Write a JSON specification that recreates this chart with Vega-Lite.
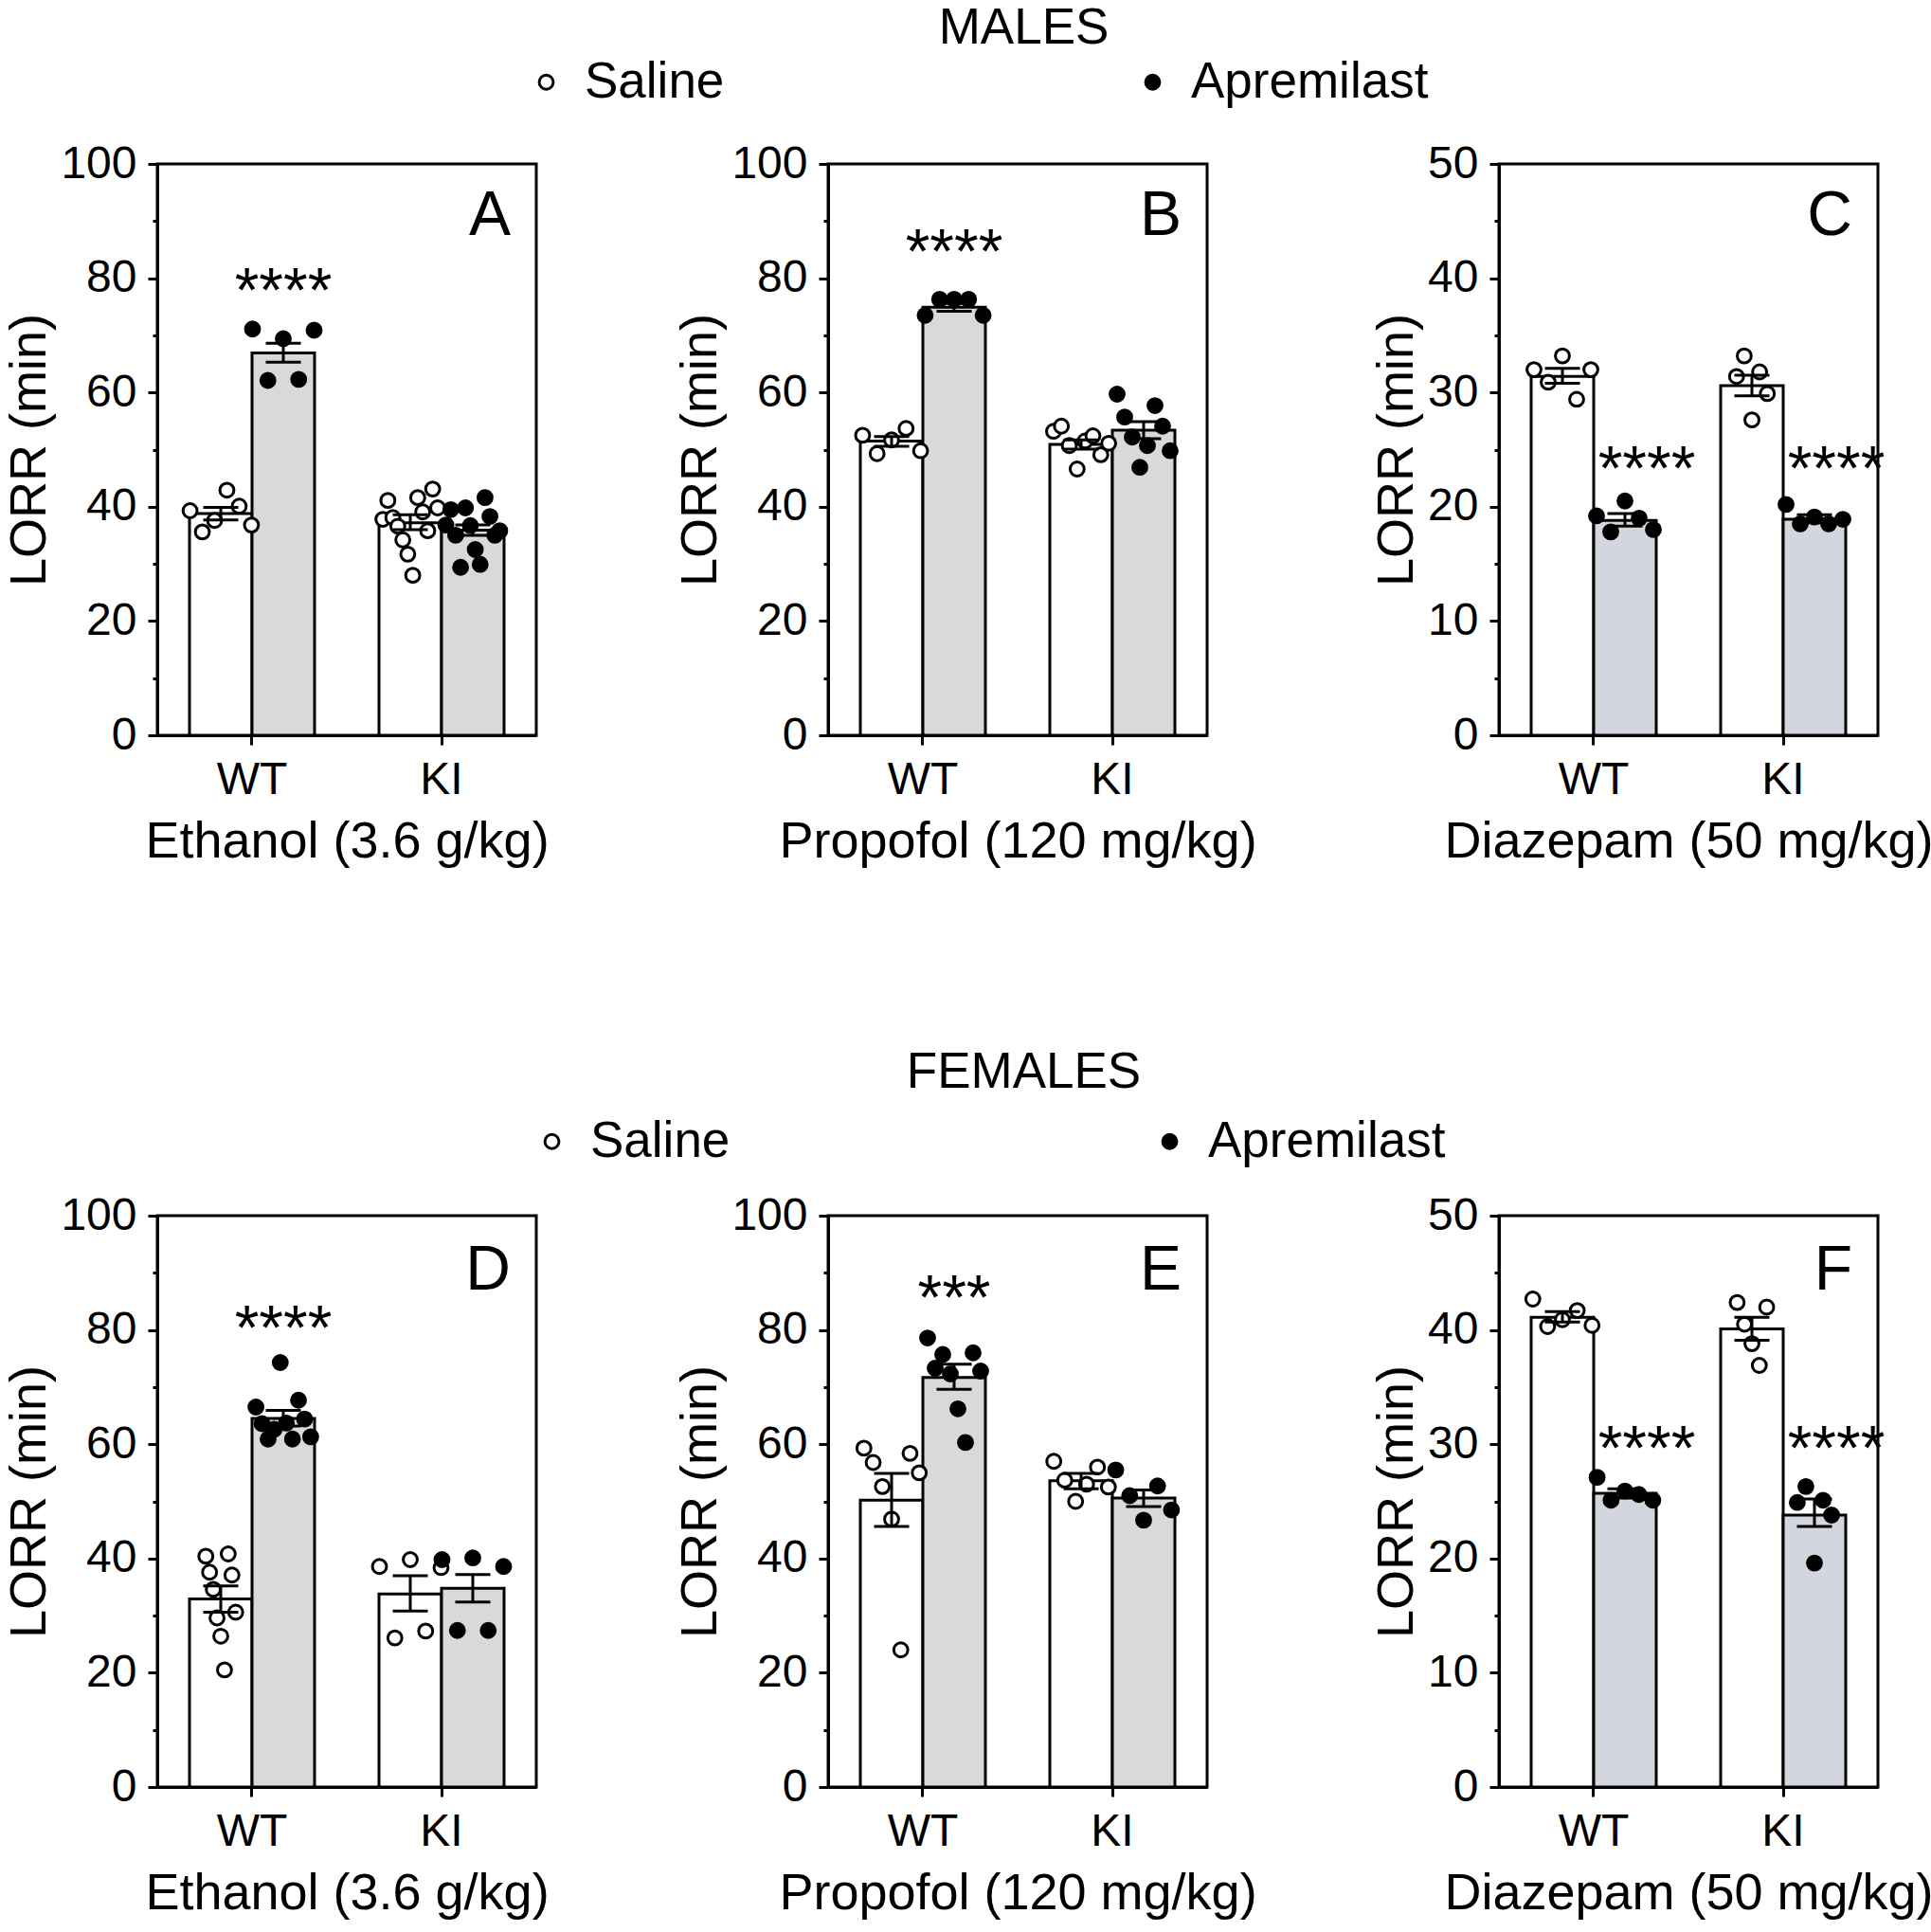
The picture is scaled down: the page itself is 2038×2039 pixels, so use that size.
{
  "$schema": "https://vega.github.io/schema/vega-lite/v6.json",
  "padding": {"left": 3, "top": 3, "right": 0, "bottom": 0},
  "autosize": {"type": "pad"},
  "config": {
    "font": "Liberation Sans",
    "view": {"stroke": "black", "strokeWidth": 3},
    "axis": {"grid": false, "labelFont": "Liberation Sans", "titleFont": "Liberation Sans", "labelFontSize": 48, "titleFontSize": 54, "labelColor": "black", "titleColor": "black", "tickColor": "black", "domainColor": "black", "tickWidth": 3, "domainWidth": 3, "titleFontWeight": "normal"},
    "axisX": {"tickSize": 10, "labelPadding": 13, "titlePadding": 14, "labelAngle": 0},
    "axisY": {"labelPadding": 12, "titlePadding": 5},
    "title": {"font": "Liberation Sans", "fontSize": 53, "fontWeight": "normal", "color": "black"}
  },
  "datasets": {
    "bars": [
      {"panel": "A", "genotype": "WT", "treatment": "Saline", "mean": 38.8, "lo": 37.7, "hi": 39.9},
      {"panel": "A", "genotype": "WT", "treatment": "Apremilast", "mean": 66.9, "lo": 65.3, "hi": 68.6},
      {"panel": "A", "genotype": "KI", "treatment": "Saline", "mean": 37.2, "lo": 36.0, "hi": 38.6},
      {"panel": "A", "genotype": "KI", "treatment": "Apremilast", "mean": 35.9, "lo": 35.0, "hi": 36.8},
      {"panel": "B", "genotype": "WT", "treatment": "Saline", "mean": 51.5, "lo": 50.6, "hi": 52.3},
      {"panel": "B", "genotype": "WT", "treatment": "Apremilast", "mean": 74.9, "lo": 74.2, "hi": 75.6},
      {"panel": "B", "genotype": "KI", "treatment": "Saline", "mean": 50.9, "lo": 50.1, "hi": 51.7},
      {"panel": "B", "genotype": "KI", "treatment": "Apremilast", "mean": 53.4, "lo": 51.9, "hi": 54.9},
      {"panel": "C", "genotype": "WT", "treatment": "Saline", "mean": 31.4, "lo": 30.8, "hi": 32.1},
      {"panel": "C", "genotype": "WT", "treatment": "Apremilast", "mean": 18.8, "lo": 18.3, "hi": 19.4},
      {"panel": "C", "genotype": "KI", "treatment": "Saline", "mean": 30.6, "lo": 29.7, "hi": 31.5},
      {"panel": "C", "genotype": "KI", "treatment": "Apremilast", "mean": 18.9, "lo": 18.6, "hi": 19.3},
      {"panel": "D", "genotype": "WT", "treatment": "Saline", "mean": 32.9, "lo": 30.6, "hi": 35.2},
      {"panel": "D", "genotype": "WT", "treatment": "Apremilast", "mean": 64.5, "lo": 63.2, "hi": 65.9},
      {"panel": "D", "genotype": "KI", "treatment": "Saline", "mean": 33.8, "lo": 30.8, "hi": 37.0},
      {"panel": "D", "genotype": "KI", "treatment": "Apremilast", "mean": 34.8, "lo": 32.4, "hi": 37.2},
      {"panel": "E", "genotype": "WT", "treatment": "Saline", "mean": 50.2, "lo": 45.6, "hi": 54.9},
      {"panel": "E", "genotype": "WT", "treatment": "Apremilast", "mean": 71.7, "lo": 69.6, "hi": 74.0},
      {"panel": "E", "genotype": "KI", "treatment": "Saline", "mean": 53.6, "lo": 52.2, "hi": 54.9},
      {"panel": "E", "genotype": "KI", "treatment": "Apremilast", "mean": 50.6, "lo": 49.1, "hi": 52.0},
      {"panel": "F", "genotype": "WT", "treatment": "Saline", "mean": 41.1, "lo": 40.7, "hi": 41.6},
      {"panel": "F", "genotype": "WT", "treatment": "Apremilast", "mean": 25.7, "lo": 25.3, "hi": 26.1},
      {"panel": "F", "genotype": "KI", "treatment": "Saline", "mean": 40.1, "lo": 39.1, "hi": 41.1},
      {"panel": "F", "genotype": "KI", "treatment": "Apremilast", "mean": 23.8, "lo": 22.8, "hi": 25.2}
    ],
    "points": [
      {"panel": "A", "genotype": "WT", "treatment": "Saline", "lorr": 39.3},
      {"panel": "A", "genotype": "WT", "treatment": "Saline", "lorr": 35.6},
      {"panel": "A", "genotype": "WT", "treatment": "Saline", "lorr": 37.6},
      {"panel": "A", "genotype": "WT", "treatment": "Saline", "lorr": 42.9},
      {"panel": "A", "genotype": "WT", "treatment": "Saline", "lorr": 40.1},
      {"panel": "A", "genotype": "WT", "treatment": "Saline", "lorr": 36.8},
      {"panel": "A", "genotype": "WT", "treatment": "Apremilast", "lorr": 71.1},
      {"panel": "A", "genotype": "WT", "treatment": "Apremilast", "lorr": 62.1},
      {"panel": "A", "genotype": "WT", "treatment": "Apremilast", "lorr": 69.4},
      {"panel": "A", "genotype": "WT", "treatment": "Apremilast", "lorr": 62.3},
      {"panel": "A", "genotype": "WT", "treatment": "Apremilast", "lorr": 70.9},
      {"panel": "A", "genotype": "KI", "treatment": "Saline", "lorr": 37.8},
      {"panel": "A", "genotype": "KI", "treatment": "Saline", "lorr": 41.1},
      {"panel": "A", "genotype": "KI", "treatment": "Saline", "lorr": 38.1},
      {"panel": "A", "genotype": "KI", "treatment": "Saline", "lorr": 36.6},
      {"panel": "A", "genotype": "KI", "treatment": "Saline", "lorr": 34.2},
      {"panel": "A", "genotype": "KI", "treatment": "Saline", "lorr": 31.7},
      {"panel": "A", "genotype": "KI", "treatment": "Saline", "lorr": 28.0},
      {"panel": "A", "genotype": "KI", "treatment": "Saline", "lorr": 41.6},
      {"panel": "A", "genotype": "KI", "treatment": "Saline", "lorr": 39.1},
      {"panel": "A", "genotype": "KI", "treatment": "Saline", "lorr": 35.8},
      {"panel": "A", "genotype": "KI", "treatment": "Saline", "lorr": 43.1},
      {"panel": "A", "genotype": "KI", "treatment": "Saline", "lorr": 39.8},
      {"panel": "A", "genotype": "KI", "treatment": "Apremilast", "lorr": 36.8},
      {"panel": "A", "genotype": "KI", "treatment": "Apremilast", "lorr": 39.5},
      {"panel": "A", "genotype": "KI", "treatment": "Apremilast", "lorr": 35.0},
      {"panel": "A", "genotype": "KI", "treatment": "Apremilast", "lorr": 29.4},
      {"panel": "A", "genotype": "KI", "treatment": "Apremilast", "lorr": 39.8},
      {"panel": "A", "genotype": "KI", "treatment": "Apremilast", "lorr": 36.7},
      {"panel": "A", "genotype": "KI", "treatment": "Apremilast", "lorr": 32.5},
      {"panel": "A", "genotype": "KI", "treatment": "Apremilast", "lorr": 29.9},
      {"panel": "A", "genotype": "KI", "treatment": "Apremilast", "lorr": 41.6},
      {"panel": "A", "genotype": "KI", "treatment": "Apremilast", "lorr": 38.3},
      {"panel": "A", "genotype": "KI", "treatment": "Apremilast", "lorr": 35.0},
      {"panel": "A", "genotype": "KI", "treatment": "Apremilast", "lorr": 35.8},
      {"panel": "B", "genotype": "WT", "treatment": "Saline", "lorr": 52.5},
      {"panel": "B", "genotype": "WT", "treatment": "Saline", "lorr": 49.3},
      {"panel": "B", "genotype": "WT", "treatment": "Saline", "lorr": 51.7},
      {"panel": "B", "genotype": "WT", "treatment": "Saline", "lorr": 53.7},
      {"panel": "B", "genotype": "WT", "treatment": "Saline", "lorr": 49.8},
      {"panel": "B", "genotype": "WT", "treatment": "Apremilast", "lorr": 73.5},
      {"panel": "B", "genotype": "WT", "treatment": "Apremilast", "lorr": 76.3},
      {"panel": "B", "genotype": "WT", "treatment": "Apremilast", "lorr": 76.3},
      {"panel": "B", "genotype": "WT", "treatment": "Apremilast", "lorr": 76.3},
      {"panel": "B", "genotype": "WT", "treatment": "Apremilast", "lorr": 73.5},
      {"panel": "B", "genotype": "KI", "treatment": "Saline", "lorr": 53.2},
      {"panel": "B", "genotype": "KI", "treatment": "Saline", "lorr": 54.1},
      {"panel": "B", "genotype": "KI", "treatment": "Saline", "lorr": 50.7},
      {"panel": "B", "genotype": "KI", "treatment": "Saline", "lorr": 46.6},
      {"panel": "B", "genotype": "KI", "treatment": "Saline", "lorr": 51.5},
      {"panel": "B", "genotype": "KI", "treatment": "Saline", "lorr": 52.4},
      {"panel": "B", "genotype": "KI", "treatment": "Saline", "lorr": 49.1},
      {"panel": "B", "genotype": "KI", "treatment": "Saline", "lorr": 51.1},
      {"panel": "B", "genotype": "KI", "treatment": "Apremilast", "lorr": 59.7},
      {"panel": "B", "genotype": "KI", "treatment": "Apremilast", "lorr": 55.7},
      {"panel": "B", "genotype": "KI", "treatment": "Apremilast", "lorr": 52.2},
      {"panel": "B", "genotype": "KI", "treatment": "Apremilast", "lorr": 46.9},
      {"panel": "B", "genotype": "KI", "treatment": "Apremilast", "lorr": 50.7},
      {"panel": "B", "genotype": "KI", "treatment": "Apremilast", "lorr": 57.7},
      {"panel": "B", "genotype": "KI", "treatment": "Apremilast", "lorr": 54.1},
      {"panel": "B", "genotype": "KI", "treatment": "Apremilast", "lorr": 49.8},
      {"panel": "C", "genotype": "WT", "treatment": "Saline", "lorr": 32.0},
      {"panel": "C", "genotype": "WT", "treatment": "Saline", "lorr": 30.9},
      {"panel": "C", "genotype": "WT", "treatment": "Saline", "lorr": 33.2},
      {"panel": "C", "genotype": "WT", "treatment": "Saline", "lorr": 29.4},
      {"panel": "C", "genotype": "WT", "treatment": "Saline", "lorr": 32.0},
      {"panel": "C", "genotype": "WT", "treatment": "Apremilast", "lorr": 19.2},
      {"panel": "C", "genotype": "WT", "treatment": "Apremilast", "lorr": 17.8},
      {"panel": "C", "genotype": "WT", "treatment": "Apremilast", "lorr": 20.5},
      {"panel": "C", "genotype": "WT", "treatment": "Apremilast", "lorr": 19.0},
      {"panel": "C", "genotype": "WT", "treatment": "Apremilast", "lorr": 18.0},
      {"panel": "C", "genotype": "KI", "treatment": "Saline", "lorr": 31.4},
      {"panel": "C", "genotype": "KI", "treatment": "Saline", "lorr": 33.2},
      {"panel": "C", "genotype": "KI", "treatment": "Saline", "lorr": 27.6},
      {"panel": "C", "genotype": "KI", "treatment": "Saline", "lorr": 31.8},
      {"panel": "C", "genotype": "KI", "treatment": "Saline", "lorr": 29.9},
      {"panel": "C", "genotype": "KI", "treatment": "Apremilast", "lorr": 20.2},
      {"panel": "C", "genotype": "KI", "treatment": "Apremilast", "lorr": 18.5},
      {"panel": "C", "genotype": "KI", "treatment": "Apremilast", "lorr": 19.1},
      {"panel": "C", "genotype": "KI", "treatment": "Apremilast", "lorr": 18.5},
      {"panel": "C", "genotype": "KI", "treatment": "Apremilast", "lorr": 18.9},
      {"panel": "D", "genotype": "WT", "treatment": "Saline", "lorr": 40.4},
      {"panel": "D", "genotype": "WT", "treatment": "Saline", "lorr": 37.6},
      {"panel": "D", "genotype": "WT", "treatment": "Saline", "lorr": 34.6},
      {"panel": "D", "genotype": "WT", "treatment": "Saline", "lorr": 29.6},
      {"panel": "D", "genotype": "WT", "treatment": "Saline", "lorr": 26.4},
      {"panel": "D", "genotype": "WT", "treatment": "Saline", "lorr": 20.5},
      {"panel": "D", "genotype": "WT", "treatment": "Saline", "lorr": 40.8},
      {"panel": "D", "genotype": "WT", "treatment": "Saline", "lorr": 37.1},
      {"panel": "D", "genotype": "WT", "treatment": "Saline", "lorr": 30.6},
      {"panel": "D", "genotype": "WT", "treatment": "Apremilast", "lorr": 66.5},
      {"panel": "D", "genotype": "WT", "treatment": "Apremilast", "lorr": 63.6},
      {"panel": "D", "genotype": "WT", "treatment": "Apremilast", "lorr": 60.9},
      {"panel": "D", "genotype": "WT", "treatment": "Apremilast", "lorr": 62.6},
      {"panel": "D", "genotype": "WT", "treatment": "Apremilast", "lorr": 74.3},
      {"panel": "D", "genotype": "WT", "treatment": "Apremilast", "lorr": 63.7},
      {"panel": "D", "genotype": "WT", "treatment": "Apremilast", "lorr": 60.9},
      {"panel": "D", "genotype": "WT", "treatment": "Apremilast", "lorr": 67.7},
      {"panel": "D", "genotype": "WT", "treatment": "Apremilast", "lorr": 64.4},
      {"panel": "D", "genotype": "WT", "treatment": "Apremilast", "lorr": 61.3},
      {"panel": "D", "genotype": "KI", "treatment": "Saline", "lorr": 38.6},
      {"panel": "D", "genotype": "KI", "treatment": "Saline", "lorr": 26.1},
      {"panel": "D", "genotype": "KI", "treatment": "Saline", "lorr": 39.8},
      {"panel": "D", "genotype": "KI", "treatment": "Saline", "lorr": 27.3},
      {"panel": "D", "genotype": "KI", "treatment": "Saline", "lorr": 38.4},
      {"panel": "D", "genotype": "KI", "treatment": "Apremilast", "lorr": 39.8},
      {"panel": "D", "genotype": "KI", "treatment": "Apremilast", "lorr": 27.4},
      {"panel": "D", "genotype": "KI", "treatment": "Apremilast", "lorr": 40.1},
      {"panel": "D", "genotype": "KI", "treatment": "Apremilast", "lorr": 27.4},
      {"panel": "D", "genotype": "KI", "treatment": "Apremilast", "lorr": 38.6},
      {"panel": "E", "genotype": "WT", "treatment": "Saline", "lorr": 59.3},
      {"panel": "E", "genotype": "WT", "treatment": "Saline", "lorr": 56.8},
      {"panel": "E", "genotype": "WT", "treatment": "Saline", "lorr": 52.6},
      {"panel": "E", "genotype": "WT", "treatment": "Saline", "lorr": 46.9},
      {"panel": "E", "genotype": "WT", "treatment": "Saline", "lorr": 24.0},
      {"panel": "E", "genotype": "WT", "treatment": "Saline", "lorr": 58.4},
      {"panel": "E", "genotype": "WT", "treatment": "Saline", "lorr": 55.0},
      {"panel": "E", "genotype": "WT", "treatment": "Apremilast", "lorr": 78.6},
      {"panel": "E", "genotype": "WT", "treatment": "Apremilast", "lorr": 73.3},
      {"panel": "E", "genotype": "WT", "treatment": "Apremilast", "lorr": 75.7},
      {"panel": "E", "genotype": "WT", "treatment": "Apremilast", "lorr": 72.3},
      {"panel": "E", "genotype": "WT", "treatment": "Apremilast", "lorr": 66.2},
      {"panel": "E", "genotype": "WT", "treatment": "Apremilast", "lorr": 60.3},
      {"panel": "E", "genotype": "WT", "treatment": "Apremilast", "lorr": 76.0},
      {"panel": "E", "genotype": "WT", "treatment": "Apremilast", "lorr": 72.8},
      {"panel": "E", "genotype": "KI", "treatment": "Saline", "lorr": 57.0},
      {"panel": "E", "genotype": "KI", "treatment": "Saline", "lorr": 53.7},
      {"panel": "E", "genotype": "KI", "treatment": "Saline", "lorr": 50.0},
      {"panel": "E", "genotype": "KI", "treatment": "Saline", "lorr": 53.0},
      {"panel": "E", "genotype": "KI", "treatment": "Saline", "lorr": 56.0},
      {"panel": "E", "genotype": "KI", "treatment": "Saline", "lorr": 52.5},
      {"panel": "E", "genotype": "KI", "treatment": "Apremilast", "lorr": 55.5},
      {"panel": "E", "genotype": "KI", "treatment": "Apremilast", "lorr": 51.0},
      {"panel": "E", "genotype": "KI", "treatment": "Apremilast", "lorr": 46.7},
      {"panel": "E", "genotype": "KI", "treatment": "Apremilast", "lorr": 52.7},
      {"panel": "E", "genotype": "KI", "treatment": "Apremilast", "lorr": 48.5},
      {"panel": "F", "genotype": "WT", "treatment": "Saline", "lorr": 42.7},
      {"panel": "F", "genotype": "WT", "treatment": "Saline", "lorr": 40.3},
      {"panel": "F", "genotype": "WT", "treatment": "Saline", "lorr": 40.9},
      {"panel": "F", "genotype": "WT", "treatment": "Saline", "lorr": 41.7},
      {"panel": "F", "genotype": "WT", "treatment": "Saline", "lorr": 40.4},
      {"panel": "F", "genotype": "WT", "treatment": "Apremilast", "lorr": 27.1},
      {"panel": "F", "genotype": "WT", "treatment": "Apremilast", "lorr": 25.1},
      {"panel": "F", "genotype": "WT", "treatment": "Apremilast", "lorr": 25.9},
      {"panel": "F", "genotype": "WT", "treatment": "Apremilast", "lorr": 25.6},
      {"panel": "F", "genotype": "WT", "treatment": "Apremilast", "lorr": 25.1},
      {"panel": "F", "genotype": "KI", "treatment": "Saline", "lorr": 42.4},
      {"panel": "F", "genotype": "KI", "treatment": "Saline", "lorr": 40.5},
      {"panel": "F", "genotype": "KI", "treatment": "Saline", "lorr": 38.8},
      {"panel": "F", "genotype": "KI", "treatment": "Saline", "lorr": 36.9},
      {"panel": "F", "genotype": "KI", "treatment": "Saline", "lorr": 42.0},
      {"panel": "F", "genotype": "KI", "treatment": "Apremilast", "lorr": 24.9},
      {"panel": "F", "genotype": "KI", "treatment": "Apremilast", "lorr": 26.3},
      {"panel": "F", "genotype": "KI", "treatment": "Apremilast", "lorr": 19.6},
      {"panel": "F", "genotype": "KI", "treatment": "Apremilast", "lorr": 25.1},
      {"panel": "F", "genotype": "KI", "treatment": "Apremilast", "lorr": 23.8}
    ],
    "stars": [
      {"panel": "A", "genotype": "WT", "treatment": "Apremilast", "y": 80.4, "label": "****"},
      {"panel": "B", "genotype": "WT", "treatment": "Apremilast", "y": 87.2, "label": "****"},
      {"panel": "C", "genotype": "WT", "treatment": "Apremilast", "y": 24.6, "label": "****"},
      {"panel": "C", "genotype": "KI", "treatment": "Apremilast", "y": 24.6, "label": "****"},
      {"panel": "D", "genotype": "WT", "treatment": "Apremilast", "y": 83.0, "label": "****"},
      {"panel": "E", "genotype": "WT", "treatment": "Apremilast", "y": 88.3, "label": "***"},
      {"panel": "F", "genotype": "WT", "treatment": "Apremilast", "y": 30.9, "label": "****"},
      {"panel": "F", "genotype": "KI", "treatment": "Apremilast", "y": 30.9, "label": "****"}
    ],
    "letters": [
      {"panel": "A", "genotype": "KI", "treatment": "Apremilast", "y": 91.6, "label": "A"},
      {"panel": "B", "genotype": "KI", "treatment": "Apremilast", "y": 91.6, "label": "B"},
      {"panel": "C", "genotype": "KI", "treatment": "Apremilast", "y": 45.75, "label": "C"},
      {"panel": "D", "genotype": "KI", "treatment": "Apremilast", "y": 91.1, "label": "D"},
      {"panel": "E", "genotype": "KI", "treatment": "Apremilast", "y": 91.1, "label": "E"},
      {"panel": "F", "genotype": "KI", "treatment": "Apremilast", "y": 45.5, "label": "F"}
    ]
  },
  "spacing": 188,
  "resolve": {"scale": {"fill": "independent"}, "legend": {"fill": "independent"}},
  "vconcat": [
    {
      "title": {"text": "MALES", "anchor": "middle", "frame": "bounds", "offset": 2, "dx": 58},
      "spacing": 308,
      "bounds": "flush",
      "resolve": {"scale": {"fill": "independent"}, "legend": {"fill": "independent"}},
      "hconcat": [
        {
          "width": 400, "height": 603,
          "encoding": {"x": {"field": "genotype", "type": "nominal", "scale": {"domain": ["WT", "KI"], "paddingInner": 0.34, "paddingOuter": 0.17}, "axis": {"title": "Ethanol (3.6 g/kg)"}}},
          "resolve": {"scale": {"xOffset": "independent"}},
          "layer": [
            {"data": {"name": "bars"}, "transform": [{"filter": "datum.panel==='A'"}], "mark": {"type": "bar", "stroke": "black", "strokeWidth": 3, "opacity": 1},
             "encoding": {"xOffset": {"field": "treatment", "type": "nominal", "scale": {"domain": ["Saline", "Apremilast"], "paddingInner": 0, "paddingOuter": 0}},
               "y": {"field": "mean", "type": "quantitative", "scale": {"domain": [0, 100]}, "axis": {"title": "LORR (min)", "values": [0,5,10,15,20,25,30,35,40,45,50,55,60,65,70,75,80,85,90,95,100], "labelExpr": "datum.value % 20 === 0 ? datum.label : ''", "tickSize": {"condition": {"test": "datum.value % 20 === 0", "value": 10}, "value": 5}, "labelOverlap": false}},
               "fill": {"condition": {"test": "datum.treatment==='Saline'", "value": "white"}, "value": "#d9d9d9"}}},
            {"data": {"name": "points"}, "transform": [{"filter": "datum.panel==='A' && datum.genotype==='WT' && datum.treatment==='Saline'"}, {"window": [{"op": "row_number", "as": "k"}]}], "mark": {"type": "circle", "size": 220, "stroke": "black", "strokeWidth": 3, "opacity": 1},
             "encoding": {"xOffset": {"field": "k", "type": "ordinal", "scale": {"range": [0.6, 65.4], "paddingInner": 0, "paddingOuter": 0}}, "y": {"field": "lorr", "type": "quantitative", "scale": {"domain": [0, 100]}}, "fill": {"field": "treatment", "type": "nominal", "scale": {"domain": ["Saline", "Apremilast"], "range": ["white", "black"]}, "legend": null}}},
            {"data": {"name": "points"}, "transform": [{"filter": "datum.panel==='A' && datum.genotype==='WT' && datum.treatment==='Apremilast'"}, {"window": [{"op": "row_number", "as": "k"}]}], "mark": {"type": "circle", "size": 220, "stroke": "black", "strokeWidth": 3, "opacity": 1},
             "encoding": {"xOffset": {"field": "k", "type": "ordinal", "scale": {"range": [66.5, 131.5], "paddingInner": 0, "paddingOuter": 0}}, "y": {"field": "lorr", "type": "quantitative", "scale": {"domain": [0, 100]}}, "fill": {"field": "treatment", "type": "nominal", "scale": {"domain": ["Saline", "Apremilast"], "range": ["white", "black"]}, "legend": null}}},
            {"data": {"name": "points"}, "transform": [{"filter": "datum.panel==='A' && datum.genotype==='KI' && datum.treatment==='Saline'"}, {"window": [{"op": "row_number", "as": "k"}]}], "mark": {"type": "circle", "size": 220, "stroke": "black", "strokeWidth": 3, "opacity": 1},
             "encoding": {"xOffset": {"field": "k", "type": "ordinal", "scale": {"range": [4.1, 61.9], "paddingInner": 0, "paddingOuter": 0}}, "y": {"field": "lorr", "type": "quantitative", "scale": {"domain": [0, 100]}}, "fill": {"field": "treatment", "type": "nominal", "scale": {"domain": ["Saline", "Apremilast"], "range": ["white", "black"]}, "legend": null}}},
            {"data": {"name": "points"}, "transform": [{"filter": "datum.panel==='A' && datum.genotype==='KI' && datum.treatment==='Apremilast'"}, {"window": [{"op": "row_number", "as": "k"}]}], "mark": {"type": "circle", "size": 220, "stroke": "black", "strokeWidth": 3, "opacity": 1},
             "encoding": {"xOffset": {"field": "k", "type": "ordinal", "scale": {"range": [70.6, 127.4], "paddingInner": 0, "paddingOuter": 0}}, "y": {"field": "lorr", "type": "quantitative", "scale": {"domain": [0, 100]}}, "fill": {"field": "treatment", "type": "nominal", "scale": {"domain": ["Saline", "Apremilast"], "range": ["white", "black"]}, "legend": null}}},
            {"data": {"name": "bars"}, "transform": [{"filter": "datum.panel==='A'"}], "mark": {"type": "rule", "color": "black", "strokeWidth": 3},
             "encoding": {"xOffset": {"field": "treatment", "type": "nominal", "scale": {"domain": ["Saline", "Apremilast"], "paddingInner": 0, "paddingOuter": 0}}, "y": {"field": "lo", "type": "quantitative", "scale": {"domain": [0, 100]}}, "y2": {"field": "hi"}}},
            {"data": {"name": "bars"}, "transform": [{"filter": "datum.panel==='A'"}, {"fold": ["lo", "hi"], "as": ["end", "val"]}], "mark": {"type": "tick", "color": "black", "size": 37, "thickness": 3, "opacity": 1},
             "encoding": {"xOffset": {"field": "treatment", "type": "nominal", "scale": {"domain": ["Saline", "Apremilast"], "paddingInner": 0, "paddingOuter": 0}}, "y": {"field": "val", "type": "quantitative", "scale": {"domain": [0, 100]}}}},
            {"data": {"name": "stars"}, "transform": [{"filter": "datum.panel==='A'"}], "mark": {"type": "text", "fontSize": 66, "baseline": "middle", "align": "center", "dx": -33, "dy": 18, "color": "black"},
             "encoding": {"xOffset": {"field": "treatment", "type": "nominal", "scale": {"domain": ["Saline", "Apremilast"], "paddingInner": 0, "paddingOuter": 0}}, "y": {"field": "y", "type": "quantitative", "scale": {"domain": [0, 100]}}, "text": {"field": "label"}}},
            {"data": {"name": "letters"}, "transform": [{"filter": "datum.panel==='A'"}], "mark": {"type": "text", "fontSize": 66, "baseline": "middle", "align": "right", "dx": 7, "dy": 4, "color": "black"},
             "encoding": {"xOffset": {"field": "treatment", "type": "nominal", "scale": {"domain": ["Saline", "Apremilast"], "paddingInner": 0, "paddingOuter": 0}}, "y": {"field": "y", "type": "quantitative", "scale": {"domain": [0, 100]}}, "text": {"field": "label"}}}
          ]
        },
        {
          "width": 400, "height": 603,
          "encoding": {"x": {"field": "genotype", "type": "nominal", "scale": {"domain": ["WT", "KI"], "paddingInner": 0.34, "paddingOuter": 0.17}, "axis": {"title": "Propofol (120 mg/kg)"}}},
          "resolve": {"scale": {"xOffset": "independent"}},
          "layer": [
            {"data": {"name": "bars"}, "transform": [{"filter": "datum.panel==='B'"}], "mark": {"type": "bar", "stroke": "black", "strokeWidth": 3, "opacity": 1},
             "encoding": {"xOffset": {"field": "treatment", "type": "nominal", "scale": {"domain": ["Saline", "Apremilast"], "paddingInner": 0, "paddingOuter": 0}},
               "y": {"field": "mean", "type": "quantitative", "scale": {"domain": [0, 100]}, "axis": {"title": "LORR (min)", "values": [0,5,10,15,20,25,30,35,40,45,50,55,60,65,70,75,80,85,90,95,100], "labelExpr": "datum.value % 20 === 0 ? datum.label : ''", "tickSize": {"condition": {"test": "datum.value % 20 === 0", "value": 10}, "value": 5}, "labelOverlap": false}},
               "fill": {"condition": {"test": "datum.treatment==='Saline'", "value": "white"}, "value": "#d9d9d9"}}},
            {"data": {"name": "points"}, "transform": [{"filter": "datum.panel==='B' && datum.genotype==='WT' && datum.treatment==='Saline'"}, {"window": [{"op": "row_number", "as": "k"}]}], "mark": {"type": "circle", "size": 220, "stroke": "black", "strokeWidth": 3, "opacity": 1},
             "encoding": {"xOffset": {"field": "k", "type": "ordinal", "scale": {"range": [2.4, 63.6], "paddingInner": 0, "paddingOuter": 0}}, "y": {"field": "lorr", "type": "quantitative", "scale": {"domain": [0, 100]}}, "fill": {"field": "treatment", "type": "nominal", "scale": {"domain": ["Saline", "Apremilast"], "range": ["white", "black"]}, "legend": {"title": null, "orient": "none", "legendX": -324, "legendY": -113, "direction": "horizontal", "symbolType": "circle", "symbolSize": 220, "symbolStrokeColor": "black", "symbolStrokeWidth": 3, "labelFontSize": 53, "labelFont": "Liberation Sans", "labelColor": "black", "labelOffset": 14, "labelLimit": 500, "columnPadding": 425, "padding": 0}}}},
            {"data": {"name": "points"}, "transform": [{"filter": "datum.panel==='B' && datum.genotype==='WT' && datum.treatment==='Apremilast'"}, {"window": [{"op": "row_number", "as": "k"}]}], "mark": {"type": "circle", "size": 220, "stroke": "black", "strokeWidth": 3, "opacity": 1},
             "encoding": {"xOffset": {"field": "k", "type": "ordinal", "scale": {"range": [68.4, 129.6], "paddingInner": 0, "paddingOuter": 0}}, "y": {"field": "lorr", "type": "quantitative", "scale": {"domain": [0, 100]}}, "fill": {"field": "treatment", "type": "nominal", "scale": {"domain": ["Saline", "Apremilast"], "range": ["white", "black"]}}}},
            {"data": {"name": "points"}, "transform": [{"filter": "datum.panel==='B' && datum.genotype==='KI' && datum.treatment==='Saline'"}, {"window": [{"op": "row_number", "as": "k"}]}], "mark": {"type": "circle", "size": 220, "stroke": "black", "strokeWidth": 3, "opacity": 1},
             "encoding": {"xOffset": {"field": "k", "type": "ordinal", "scale": {"range": [3.9, 62.1], "paddingInner": 0, "paddingOuter": 0}}, "y": {"field": "lorr", "type": "quantitative", "scale": {"domain": [0, 100]}}, "fill": {"field": "treatment", "type": "nominal", "scale": {"domain": ["Saline", "Apremilast"], "range": ["white", "black"]}}}},
            {"data": {"name": "points"}, "transform": [{"filter": "datum.panel==='B' && datum.genotype==='KI' && datum.treatment==='Apremilast'"}, {"window": [{"op": "row_number", "as": "k"}]}], "mark": {"type": "circle", "size": 220, "stroke": "black", "strokeWidth": 3, "opacity": 1},
             "encoding": {"xOffset": {"field": "k", "type": "ordinal", "scale": {"range": [71, 127], "paddingInner": 0, "paddingOuter": 0}}, "y": {"field": "lorr", "type": "quantitative", "scale": {"domain": [0, 100]}}, "fill": {"field": "treatment", "type": "nominal", "scale": {"domain": ["Saline", "Apremilast"], "range": ["white", "black"]}}}},
            {"data": {"name": "bars"}, "transform": [{"filter": "datum.panel==='B'"}], "mark": {"type": "rule", "color": "black", "strokeWidth": 3},
             "encoding": {"xOffset": {"field": "treatment", "type": "nominal", "scale": {"domain": ["Saline", "Apremilast"], "paddingInner": 0, "paddingOuter": 0}}, "y": {"field": "lo", "type": "quantitative", "scale": {"domain": [0, 100]}}, "y2": {"field": "hi"}}},
            {"data": {"name": "bars"}, "transform": [{"filter": "datum.panel==='B'"}, {"fold": ["lo", "hi"], "as": ["end", "val"]}], "mark": {"type": "tick", "color": "black", "size": 37, "thickness": 3, "opacity": 1},
             "encoding": {"xOffset": {"field": "treatment", "type": "nominal", "scale": {"domain": ["Saline", "Apremilast"], "paddingInner": 0, "paddingOuter": 0}}, "y": {"field": "val", "type": "quantitative", "scale": {"domain": [0, 100]}}}},
            {"data": {"name": "stars"}, "transform": [{"filter": "datum.panel==='B'"}], "mark": {"type": "text", "fontSize": 66, "baseline": "middle", "align": "center", "dx": -33, "dy": 18, "color": "black"},
             "encoding": {"xOffset": {"field": "treatment", "type": "nominal", "scale": {"domain": ["Saline", "Apremilast"], "paddingInner": 0, "paddingOuter": 0}}, "y": {"field": "y", "type": "quantitative", "scale": {"domain": [0, 100]}}, "text": {"field": "label"}}},
            {"data": {"name": "letters"}, "transform": [{"filter": "datum.panel==='B'"}], "mark": {"type": "text", "fontSize": 66, "baseline": "middle", "align": "right", "dx": 7, "dy": 4, "color": "black"},
             "encoding": {"xOffset": {"field": "treatment", "type": "nominal", "scale": {"domain": ["Saline", "Apremilast"], "paddingInner": 0, "paddingOuter": 0}}, "y": {"field": "y", "type": "quantitative", "scale": {"domain": [0, 100]}}, "text": {"field": "label"}}}
          ]
        },
        {
          "width": 400, "height": 603,
          "encoding": {"x": {"field": "genotype", "type": "nominal", "scale": {"domain": ["WT", "KI"], "paddingInner": 0.34, "paddingOuter": 0.17}, "axis": {"title": "Diazepam (50 mg/kg)"}}},
          "resolve": {"scale": {"xOffset": "independent"}},
          "layer": [
            {"data": {"name": "bars"}, "transform": [{"filter": "datum.panel==='C'"}], "mark": {"type": "bar", "stroke": "black", "strokeWidth": 3, "opacity": 1},
             "encoding": {"xOffset": {"field": "treatment", "type": "nominal", "scale": {"domain": ["Saline", "Apremilast"], "paddingInner": 0, "paddingOuter": 0}},
               "y": {"field": "mean", "type": "quantitative", "scale": {"domain": [0, 50]}, "axis": {"title": "LORR (min)", "values": [0,2.5,5,7.5,10,12.5,15,17.5,20,22.5,25,27.5,30,32.5,35,37.5,40,42.5,45,47.5,50], "labelExpr": "datum.value % 10 === 0 ? datum.label : ''", "tickSize": {"condition": {"test": "datum.value % 10 === 0", "value": 10}, "value": 5}, "labelOverlap": false}},
               "fill": {"condition": {"test": "datum.treatment==='Saline'", "value": "white"}, "value": "#d3d6de"}}},
            {"data": {"name": "points"}, "transform": [{"filter": "datum.panel==='C' && datum.genotype==='WT' && datum.treatment==='Saline'"}, {"window": [{"op": "row_number", "as": "k"}]}], "mark": {"type": "circle", "size": 220, "stroke": "black", "strokeWidth": 3, "opacity": 1},
             "encoding": {"xOffset": {"field": "k", "type": "ordinal", "scale": {"range": [3, 63], "paddingInner": 0, "paddingOuter": 0}}, "y": {"field": "lorr", "type": "quantitative", "scale": {"domain": [0, 50]}}, "fill": {"field": "treatment", "type": "nominal", "scale": {"domain": ["Saline", "Apremilast"], "range": ["white", "black"]}, "legend": null}}},
            {"data": {"name": "points"}, "transform": [{"filter": "datum.panel==='C' && datum.genotype==='WT' && datum.treatment==='Apremilast'"}, {"window": [{"op": "row_number", "as": "k"}]}], "mark": {"type": "circle", "size": 220, "stroke": "black", "strokeWidth": 3, "opacity": 1},
             "encoding": {"xOffset": {"field": "k", "type": "ordinal", "scale": {"range": [69, 129], "paddingInner": 0, "paddingOuter": 0}}, "y": {"field": "lorr", "type": "quantitative", "scale": {"domain": [0, 50]}}, "fill": {"field": "treatment", "type": "nominal", "scale": {"domain": ["Saline", "Apremilast"], "range": ["white", "black"]}, "legend": null}}},
            {"data": {"name": "points"}, "transform": [{"filter": "datum.panel==='C' && datum.genotype==='KI' && datum.treatment==='Saline'"}, {"window": [{"op": "row_number", "as": "k"}]}], "mark": {"type": "circle", "size": 220, "stroke": "black", "strokeWidth": 3, "opacity": 1},
             "encoding": {"xOffset": {"field": "k", "type": "ordinal", "scale": {"range": [16.75, 49.25], "paddingInner": 0, "paddingOuter": 0}}, "y": {"field": "lorr", "type": "quantitative", "scale": {"domain": [0, 50]}}, "fill": {"field": "treatment", "type": "nominal", "scale": {"domain": ["Saline", "Apremilast"], "range": ["white", "black"]}, "legend": null}}},
            {"data": {"name": "points"}, "transform": [{"filter": "datum.panel==='C' && datum.genotype==='KI' && datum.treatment==='Apremilast'"}, {"window": [{"op": "row_number", "as": "k"}]}], "mark": {"type": "circle", "size": 220, "stroke": "black", "strokeWidth": 3, "opacity": 1},
             "encoding": {"xOffset": {"field": "k", "type": "ordinal", "scale": {"range": [69, 129], "paddingInner": 0, "paddingOuter": 0}}, "y": {"field": "lorr", "type": "quantitative", "scale": {"domain": [0, 50]}}, "fill": {"field": "treatment", "type": "nominal", "scale": {"domain": ["Saline", "Apremilast"], "range": ["white", "black"]}, "legend": null}}},
            {"data": {"name": "bars"}, "transform": [{"filter": "datum.panel==='C'"}], "mark": {"type": "rule", "color": "black", "strokeWidth": 3},
             "encoding": {"xOffset": {"field": "treatment", "type": "nominal", "scale": {"domain": ["Saline", "Apremilast"], "paddingInner": 0, "paddingOuter": 0}}, "y": {"field": "lo", "type": "quantitative", "scale": {"domain": [0, 50]}}, "y2": {"field": "hi"}}},
            {"data": {"name": "bars"}, "transform": [{"filter": "datum.panel==='C'"}, {"fold": ["lo", "hi"], "as": ["end", "val"]}], "mark": {"type": "tick", "color": "black", "size": 37, "thickness": 3, "opacity": 1},
             "encoding": {"xOffset": {"field": "treatment", "type": "nominal", "scale": {"domain": ["Saline", "Apremilast"], "paddingInner": 0, "paddingOuter": 0}}, "y": {"field": "val", "type": "quantitative", "scale": {"domain": [0, 50]}}}},
            {"data": {"name": "stars"}, "transform": [{"filter": "datum.panel==='C'"}], "mark": {"type": "text", "fontSize": 66, "baseline": "middle", "align": "center", "dx": -10, "dy": 18, "color": "black"},
             "encoding": {"xOffset": {"field": "treatment", "type": "nominal", "scale": {"domain": ["Saline", "Apremilast"], "paddingInner": 0, "paddingOuter": 0}}, "y": {"field": "y", "type": "quantitative", "scale": {"domain": [0, 50]}}, "text": {"field": "label"}}},
            {"data": {"name": "letters"}, "transform": [{"filter": "datum.panel==='C'"}], "mark": {"type": "text", "fontSize": 66, "baseline": "middle", "align": "right", "dx": 7, "dy": 4, "color": "black"},
             "encoding": {"xOffset": {"field": "treatment", "type": "nominal", "scale": {"domain": ["Saline", "Apremilast"], "paddingInner": 0, "paddingOuter": 0}}, "y": {"field": "y", "type": "quantitative", "scale": {"domain": [0, 50]}}, "text": {"field": "label"}}}
          ]
        }
      ]
    },
    {
      "title": {"text": "FEMALES", "anchor": "middle", "frame": "bounds", "offset": 18, "dx": 58},
      "spacing": 308,
      "bounds": "flush",
      "resolve": {"scale": {"fill": "independent"}, "legend": {"fill": "independent"}},
      "hconcat": [
        {
          "width": 400, "height": 603,
          "encoding": {"x": {"field": "genotype", "type": "nominal", "scale": {"domain": ["WT", "KI"], "paddingInner": 0.34, "paddingOuter": 0.17}, "axis": {"title": "Ethanol (3.6 g/kg)"}}},
          "resolve": {"scale": {"xOffset": "independent"}},
          "layer": [
            {"data": {"name": "bars"}, "transform": [{"filter": "datum.panel==='D'"}], "mark": {"type": "bar", "stroke": "black", "strokeWidth": 3, "opacity": 1},
             "encoding": {"xOffset": {"field": "treatment", "type": "nominal", "scale": {"domain": ["Saline", "Apremilast"], "paddingInner": 0, "paddingOuter": 0}},
               "y": {"field": "mean", "type": "quantitative", "scale": {"domain": [0, 100]}, "axis": {"title": "LORR (min)", "values": [0,5,10,15,20,25,30,35,40,45,50,55,60,65,70,75,80,85,90,95,100], "labelExpr": "datum.value % 20 === 0 ? datum.label : ''", "tickSize": {"condition": {"test": "datum.value % 20 === 0", "value": 10}, "value": 5}, "labelOverlap": false}},
               "fill": {"condition": {"test": "datum.treatment==='Saline'", "value": "white"}, "value": "#d9d9d9"}}},
            {"data": {"name": "points"}, "transform": [{"filter": "datum.panel==='D' && datum.genotype==='WT' && datum.treatment==='Saline'"}, {"window": [{"op": "row_number", "as": "k"}]}], "mark": {"type": "circle", "size": 220, "stroke": "black", "strokeWidth": 3, "opacity": 1},
             "encoding": {"xOffset": {"field": "k", "type": "ordinal", "scale": {"range": [17.25, 48.75], "paddingInner": 0, "paddingOuter": 0}}, "y": {"field": "lorr", "type": "quantitative", "scale": {"domain": [0, 100]}}, "fill": {"field": "treatment", "type": "nominal", "scale": {"domain": ["Saline", "Apremilast"], "range": ["white", "black"]}, "legend": null}}},
            {"data": {"name": "points"}, "transform": [{"filter": "datum.panel==='D' && datum.genotype==='WT' && datum.treatment==='Apremilast'"}, {"window": [{"op": "row_number", "as": "k"}]}], "mark": {"type": "circle", "size": 220, "stroke": "black", "strokeWidth": 3, "opacity": 1},
             "encoding": {"xOffset": {"field": "k", "type": "ordinal", "scale": {"range": [70.1, 127.9], "paddingInner": 0, "paddingOuter": 0}}, "y": {"field": "lorr", "type": "quantitative", "scale": {"domain": [0, 100]}}, "fill": {"field": "treatment", "type": "nominal", "scale": {"domain": ["Saline", "Apremilast"], "range": ["white", "black"]}, "legend": null}}},
            {"data": {"name": "points"}, "transform": [{"filter": "datum.panel==='D' && datum.genotype==='KI' && datum.treatment==='Saline'"}, {"window": [{"op": "row_number", "as": "k"}]}], "mark": {"type": "circle", "size": 220, "stroke": "black", "strokeWidth": 3, "opacity": 1},
             "encoding": {"xOffset": {"field": "k", "type": "ordinal", "scale": {"range": [0.5, 65.5], "paddingInner": 0, "paddingOuter": 0}}, "y": {"field": "lorr", "type": "quantitative", "scale": {"domain": [0, 100]}}, "fill": {"field": "treatment", "type": "nominal", "scale": {"domain": ["Saline", "Apremilast"], "range": ["white", "black"]}, "legend": null}}},
            {"data": {"name": "points"}, "transform": [{"filter": "datum.panel==='D' && datum.genotype==='KI' && datum.treatment==='Apremilast'"}, {"window": [{"op": "row_number", "as": "k"}]}], "mark": {"type": "circle", "size": 220, "stroke": "black", "strokeWidth": 3, "opacity": 1},
             "encoding": {"xOffset": {"field": "k", "type": "ordinal", "scale": {"range": [66.5, 131.5], "paddingInner": 0, "paddingOuter": 0}}, "y": {"field": "lorr", "type": "quantitative", "scale": {"domain": [0, 100]}}, "fill": {"field": "treatment", "type": "nominal", "scale": {"domain": ["Saline", "Apremilast"], "range": ["white", "black"]}, "legend": null}}},
            {"data": {"name": "bars"}, "transform": [{"filter": "datum.panel==='D'"}], "mark": {"type": "rule", "color": "black", "strokeWidth": 3},
             "encoding": {"xOffset": {"field": "treatment", "type": "nominal", "scale": {"domain": ["Saline", "Apremilast"], "paddingInner": 0, "paddingOuter": 0}}, "y": {"field": "lo", "type": "quantitative", "scale": {"domain": [0, 100]}}, "y2": {"field": "hi"}}},
            {"data": {"name": "bars"}, "transform": [{"filter": "datum.panel==='D'"}, {"fold": ["lo", "hi"], "as": ["end", "val"]}], "mark": {"type": "tick", "color": "black", "size": 37, "thickness": 3, "opacity": 1},
             "encoding": {"xOffset": {"field": "treatment", "type": "nominal", "scale": {"domain": ["Saline", "Apremilast"], "paddingInner": 0, "paddingOuter": 0}}, "y": {"field": "val", "type": "quantitative", "scale": {"domain": [0, 100]}}}},
            {"data": {"name": "stars"}, "transform": [{"filter": "datum.panel==='D'"}], "mark": {"type": "text", "fontSize": 66, "baseline": "middle", "align": "center", "dx": -33, "dy": 18, "color": "black"},
             "encoding": {"xOffset": {"field": "treatment", "type": "nominal", "scale": {"domain": ["Saline", "Apremilast"], "paddingInner": 0, "paddingOuter": 0}}, "y": {"field": "y", "type": "quantitative", "scale": {"domain": [0, 100]}}, "text": {"field": "label"}}},
            {"data": {"name": "letters"}, "transform": [{"filter": "datum.panel==='D'"}], "mark": {"type": "text", "fontSize": 66, "baseline": "middle", "align": "right", "dx": 7, "dy": 4, "color": "black"},
             "encoding": {"xOffset": {"field": "treatment", "type": "nominal", "scale": {"domain": ["Saline", "Apremilast"], "paddingInner": 0, "paddingOuter": 0}}, "y": {"field": "y", "type": "quantitative", "scale": {"domain": [0, 100]}}, "text": {"field": "label"}}}
          ]
        },
        {
          "width": 400, "height": 603,
          "encoding": {"x": {"field": "genotype", "type": "nominal", "scale": {"domain": ["WT", "KI"], "paddingInner": 0.34, "paddingOuter": 0.17}, "axis": {"title": "Propofol (120 mg/kg)"}}},
          "resolve": {"scale": {"xOffset": "independent"}},
          "layer": [
            {"data": {"name": "bars"}, "transform": [{"filter": "datum.panel==='E'"}], "mark": {"type": "bar", "stroke": "black", "strokeWidth": 3, "opacity": 1},
             "encoding": {"xOffset": {"field": "treatment", "type": "nominal", "scale": {"domain": ["Saline", "Apremilast"], "paddingInner": 0, "paddingOuter": 0}},
               "y": {"field": "mean", "type": "quantitative", "scale": {"domain": [0, 100]}, "axis": {"title": "LORR (min)", "values": [0,5,10,15,20,25,30,35,40,45,50,55,60,65,70,75,80,85,90,95,100], "labelExpr": "datum.value % 20 === 0 ? datum.label : ''", "tickSize": {"condition": {"test": "datum.value % 20 === 0", "value": 10}, "value": 5}, "labelOverlap": false}},
               "fill": {"condition": {"test": "datum.treatment==='Saline'", "value": "white"}, "value": "#d9d9d9"}}},
            {"data": {"name": "points"}, "transform": [{"filter": "datum.panel==='E' && datum.genotype==='WT' && datum.treatment==='Saline'"}, {"window": [{"op": "row_number", "as": "k"}]}], "mark": {"type": "circle", "size": 220, "stroke": "black", "strokeWidth": 3, "opacity": 1},
             "encoding": {"xOffset": {"field": "k", "type": "ordinal", "scale": {"range": [3.8, 62.2], "paddingInner": 0, "paddingOuter": 0}}, "y": {"field": "lorr", "type": "quantitative", "scale": {"domain": [0, 100]}}, "fill": {"field": "treatment", "type": "nominal", "scale": {"domain": ["Saline", "Apremilast"], "range": ["white", "black"]}, "legend": {"title": null, "orient": "none", "legendX": -318, "legendY": -105, "direction": "horizontal", "symbolType": "circle", "symbolSize": 220, "symbolStrokeColor": "black", "symbolStrokeWidth": 3, "labelFontSize": 53, "labelFont": "Liberation Sans", "labelColor": "black", "labelOffset": 14, "labelLimit": 500, "columnPadding": 437, "padding": 0}}}},
            {"data": {"name": "points"}, "transform": [{"filter": "datum.panel==='E' && datum.genotype==='WT' && datum.treatment==='Apremilast'"}, {"window": [{"op": "row_number", "as": "k"}]}], "mark": {"type": "circle", "size": 220, "stroke": "black", "strokeWidth": 3, "opacity": 1},
             "encoding": {"xOffset": {"field": "k", "type": "ordinal", "scale": {"range": [71, 127], "paddingInner": 0, "paddingOuter": 0}}, "y": {"field": "lorr", "type": "quantitative", "scale": {"domain": [0, 100]}}, "fill": {"field": "treatment", "type": "nominal", "scale": {"domain": ["Saline", "Apremilast"], "range": ["white", "black"]}}}},
            {"data": {"name": "points"}, "transform": [{"filter": "datum.panel==='E' && datum.genotype==='KI' && datum.treatment==='Saline'"}, {"window": [{"op": "row_number", "as": "k"}]}], "mark": {"type": "circle", "size": 220, "stroke": "black", "strokeWidth": 3, "opacity": 1},
             "encoding": {"xOffset": {"field": "k", "type": "ordinal", "scale": {"range": [4.2, 61.8], "paddingInner": 0, "paddingOuter": 0}}, "y": {"field": "lorr", "type": "quantitative", "scale": {"domain": [0, 100]}}, "fill": {"field": "treatment", "type": "nominal", "scale": {"domain": ["Saline", "Apremilast"], "range": ["white", "black"]}}}},
            {"data": {"name": "points"}, "transform": [{"filter": "datum.panel==='E' && datum.genotype==='KI' && datum.treatment==='Apremilast'"}, {"window": [{"op": "row_number", "as": "k"}]}], "mark": {"type": "circle", "size": 220, "stroke": "black", "strokeWidth": 3, "opacity": 1},
             "encoding": {"xOffset": {"field": "k", "type": "ordinal", "scale": {"range": [69.6, 128.4], "paddingInner": 0, "paddingOuter": 0}}, "y": {"field": "lorr", "type": "quantitative", "scale": {"domain": [0, 100]}}, "fill": {"field": "treatment", "type": "nominal", "scale": {"domain": ["Saline", "Apremilast"], "range": ["white", "black"]}}}},
            {"data": {"name": "bars"}, "transform": [{"filter": "datum.panel==='E'"}], "mark": {"type": "rule", "color": "black", "strokeWidth": 3},
             "encoding": {"xOffset": {"field": "treatment", "type": "nominal", "scale": {"domain": ["Saline", "Apremilast"], "paddingInner": 0, "paddingOuter": 0}}, "y": {"field": "lo", "type": "quantitative", "scale": {"domain": [0, 100]}}, "y2": {"field": "hi"}}},
            {"data": {"name": "bars"}, "transform": [{"filter": "datum.panel==='E'"}, {"fold": ["lo", "hi"], "as": ["end", "val"]}], "mark": {"type": "tick", "color": "black", "size": 37, "thickness": 3, "opacity": 1},
             "encoding": {"xOffset": {"field": "treatment", "type": "nominal", "scale": {"domain": ["Saline", "Apremilast"], "paddingInner": 0, "paddingOuter": 0}}, "y": {"field": "val", "type": "quantitative", "scale": {"domain": [0, 100]}}}},
            {"data": {"name": "stars"}, "transform": [{"filter": "datum.panel==='E'"}], "mark": {"type": "text", "fontSize": 66, "baseline": "middle", "align": "center", "dx": -33, "dy": 18, "color": "black"},
             "encoding": {"xOffset": {"field": "treatment", "type": "nominal", "scale": {"domain": ["Saline", "Apremilast"], "paddingInner": 0, "paddingOuter": 0}}, "y": {"field": "y", "type": "quantitative", "scale": {"domain": [0, 100]}}, "text": {"field": "label"}}},
            {"data": {"name": "letters"}, "transform": [{"filter": "datum.panel==='E'"}], "mark": {"type": "text", "fontSize": 66, "baseline": "middle", "align": "right", "dx": 7, "dy": 4, "color": "black"},
             "encoding": {"xOffset": {"field": "treatment", "type": "nominal", "scale": {"domain": ["Saline", "Apremilast"], "paddingInner": 0, "paddingOuter": 0}}, "y": {"field": "y", "type": "quantitative", "scale": {"domain": [0, 100]}}, "text": {"field": "label"}}}
          ]
        },
        {
          "width": 400, "height": 603,
          "encoding": {"x": {"field": "genotype", "type": "nominal", "scale": {"domain": ["WT", "KI"], "paddingInner": 0.34, "paddingOuter": 0.17}, "axis": {"title": "Diazepam (50 mg/kg)"}}},
          "resolve": {"scale": {"xOffset": "independent"}},
          "layer": [
            {"data": {"name": "bars"}, "transform": [{"filter": "datum.panel==='F'"}], "mark": {"type": "bar", "stroke": "black", "strokeWidth": 3, "opacity": 1},
             "encoding": {"xOffset": {"field": "treatment", "type": "nominal", "scale": {"domain": ["Saline", "Apremilast"], "paddingInner": 0, "paddingOuter": 0}},
               "y": {"field": "mean", "type": "quantitative", "scale": {"domain": [0, 50]}, "axis": {"title": "LORR (min)", "values": [0,2.5,5,7.5,10,12.5,15,17.5,20,22.5,25,27.5,30,32.5,35,37.5,40,42.5,45,47.5,50], "labelExpr": "datum.value % 10 === 0 ? datum.label : ''", "tickSize": {"condition": {"test": "datum.value % 10 === 0", "value": 10}, "value": 5}, "labelOverlap": false}},
               "fill": {"condition": {"test": "datum.treatment==='Saline'", "value": "white"}, "value": "#d3d6de"}}},
            {"data": {"name": "points"}, "transform": [{"filter": "datum.panel==='F' && datum.genotype==='WT' && datum.treatment==='Saline'"}, {"window": [{"op": "row_number", "as": "k"}]}], "mark": {"type": "circle", "size": 220, "stroke": "black", "strokeWidth": 3, "opacity": 1},
             "encoding": {"xOffset": {"field": "k", "type": "ordinal", "scale": {"range": [1.75, 64.25], "paddingInner": 0, "paddingOuter": 0}}, "y": {"field": "lorr", "type": "quantitative", "scale": {"domain": [0, 50]}}, "fill": {"field": "treatment", "type": "nominal", "scale": {"domain": ["Saline", "Apremilast"], "range": ["white", "black"]}, "legend": null}}},
            {"data": {"name": "points"}, "transform": [{"filter": "datum.panel==='F' && datum.genotype==='WT' && datum.treatment==='Apremilast'"}, {"window": [{"op": "row_number", "as": "k"}]}], "mark": {"type": "circle", "size": 220, "stroke": "black", "strokeWidth": 3, "opacity": 1},
             "encoding": {"xOffset": {"field": "k", "type": "ordinal", "scale": {"range": [69.6, 128.4], "paddingInner": 0, "paddingOuter": 0}}, "y": {"field": "lorr", "type": "quantitative", "scale": {"domain": [0, 50]}}, "fill": {"field": "treatment", "type": "nominal", "scale": {"domain": ["Saline", "Apremilast"], "range": ["white", "black"]}, "legend": null}}},
            {"data": {"name": "points"}, "transform": [{"filter": "datum.panel==='F' && datum.genotype==='KI' && datum.treatment==='Saline'"}, {"window": [{"op": "row_number", "as": "k"}]}], "mark": {"type": "circle", "size": 220, "stroke": "black", "strokeWidth": 3, "opacity": 1},
             "encoding": {"xOffset": {"field": "k", "type": "ordinal", "scale": {"range": [17.4, 48.6], "paddingInner": 0, "paddingOuter": 0}}, "y": {"field": "lorr", "type": "quantitative", "scale": {"domain": [0, 50]}}, "fill": {"field": "treatment", "type": "nominal", "scale": {"domain": ["Saline", "Apremilast"], "range": ["white", "black"]}, "legend": null}}},
            {"data": {"name": "points"}, "transform": [{"filter": "datum.panel==='F' && datum.genotype==='KI' && datum.treatment==='Apremilast'"}, {"window": [{"op": "row_number", "as": "k"}]}], "mark": {"type": "circle", "size": 220, "stroke": "black", "strokeWidth": 3, "opacity": 1},
             "encoding": {"xOffset": {"field": "k", "type": "ordinal", "scale": {"range": [80.9, 117.1], "paddingInner": 0, "paddingOuter": 0}}, "y": {"field": "lorr", "type": "quantitative", "scale": {"domain": [0, 50]}}, "fill": {"field": "treatment", "type": "nominal", "scale": {"domain": ["Saline", "Apremilast"], "range": ["white", "black"]}, "legend": null}}},
            {"data": {"name": "bars"}, "transform": [{"filter": "datum.panel==='F'"}], "mark": {"type": "rule", "color": "black", "strokeWidth": 3},
             "encoding": {"xOffset": {"field": "treatment", "type": "nominal", "scale": {"domain": ["Saline", "Apremilast"], "paddingInner": 0, "paddingOuter": 0}}, "y": {"field": "lo", "type": "quantitative", "scale": {"domain": [0, 50]}}, "y2": {"field": "hi"}}},
            {"data": {"name": "bars"}, "transform": [{"filter": "datum.panel==='F'"}, {"fold": ["lo", "hi"], "as": ["end", "val"]}], "mark": {"type": "tick", "color": "black", "size": 37, "thickness": 3, "opacity": 1},
             "encoding": {"xOffset": {"field": "treatment", "type": "nominal", "scale": {"domain": ["Saline", "Apremilast"], "paddingInner": 0, "paddingOuter": 0}}, "y": {"field": "val", "type": "quantitative", "scale": {"domain": [0, 50]}}}},
            {"data": {"name": "stars"}, "transform": [{"filter": "datum.panel==='F'"}], "mark": {"type": "text", "fontSize": 66, "baseline": "middle", "align": "center", "dx": -10, "dy": 18, "color": "black"},
             "encoding": {"xOffset": {"field": "treatment", "type": "nominal", "scale": {"domain": ["Saline", "Apremilast"], "paddingInner": 0, "paddingOuter": 0}}, "y": {"field": "y", "type": "quantitative", "scale": {"domain": [0, 50]}}, "text": {"field": "label"}}},
            {"data": {"name": "letters"}, "transform": [{"filter": "datum.panel==='F'"}], "mark": {"type": "text", "fontSize": 66, "baseline": "middle", "align": "right", "dx": 7, "dy": 4, "color": "black"},
             "encoding": {"xOffset": {"field": "treatment", "type": "nominal", "scale": {"domain": ["Saline", "Apremilast"], "paddingInner": 0, "paddingOuter": 0}}, "y": {"field": "y", "type": "quantitative", "scale": {"domain": [0, 50]}}, "text": {"field": "label"}}}
          ]
        }
      ]
    }
  ]
}
